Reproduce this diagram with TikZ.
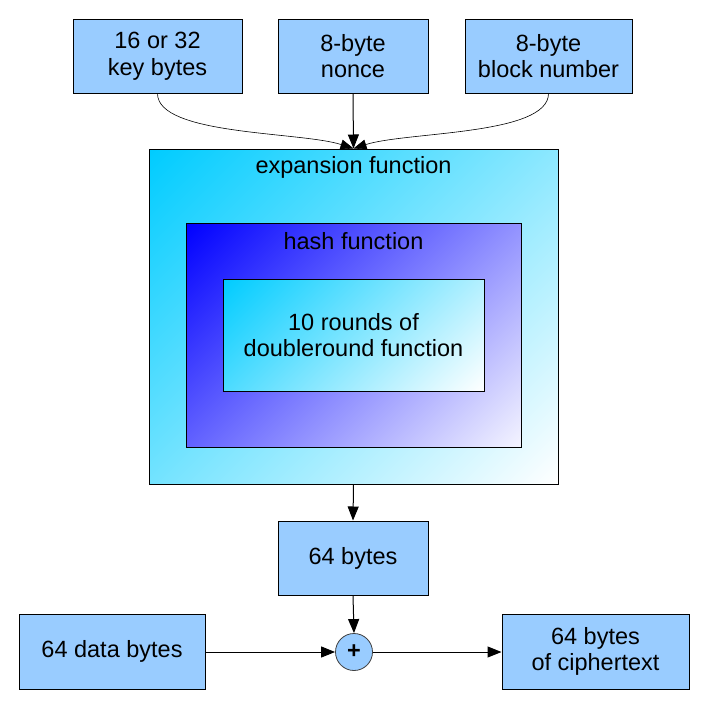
\documentclass[tikz,border=0pt]{standalone}
\usepackage{fontspec}
\setmainfont{Liberation Sans}
\usetikzlibrary{arrows.meta}
\definecolor{boxblue}{HTML}{99CCFF}
\definecolor{cyanA}{HTML}{00CCFF}
\definecolor{blueA}{HTML}{0000FF}
\definecolor{lavA}{HTML}{F4F4FF}
\pgfdeclareverticalshading{cyanfade}{100bp}{color(0bp)=(white); color(14.6bp)=(white); color(85.4bp)=(cyanA); color(100bp)=(cyanA)}
\pgfdeclareverticalshading{bluefade}{100bp}{color(0bp)=(lavA); color(14.6bp)=(lavA); color(85.4bp)=(blueA); color(100bp)=(blueA)}
\tikzset{
  every node/.style={font=\fontsize{23.5}{26.5}\selectfont},
  bluebox/.style={draw=black, line width=1pt, fill=boxblue, rectangle, align=center, inner sep=0pt},
  cyanbox/.style={draw=black, line width=1pt, rectangle, inner sep=0pt, shading=cyanfade, shading angle=45},
  hashbox/.style={draw=black, line width=1pt, rectangle, inner sep=0pt, shading=bluefade, shading angle=45},
  conn/.style={line width=1pt, -{Triangle[length=14pt,width=11pt]}},
  thinconn/.style={line width=0.6pt, -{Triangle[length=13pt,width=10pt]}},
  lbl/.style={inner sep=0pt, align=center}
}
\begin{document}
\begin{tikzpicture}[x=1pt,y=-1pt]
\fill[white] (0,0) rectangle (707,707);
\useasboundingbox (0,0) rectangle (707,707);
% top inputs
\node[bluebox, minimum width=169pt, minimum height=74pt] (key) at (157.5,56) {16 or 32\\key bytes};
\node[bluebox, minimum width=150pt, minimum height=74pt] (nonce) at (353,56) {8-byte\\nonce};
\node[bluebox, minimum width=167pt, minimum height=74pt] (block) at (548.5,56) {8-byte\\block number};
% nested functions
\node[cyanbox, minimum width=409pt, minimum height=335pt] (exp) at (353.5,316.5) {};
\node[lbl] (explbl) at (353.5,167) {expansion function};
\node[hashbox, minimum width=335pt, minimum height=224pt] (hash) at (353.5,335) {};
\node[lbl] (hashlbl) at (353.5,241) {hash function};
\node[cyanbox, minimum width=261pt, minimum height=112pt, align=center] (rounds) at (353.5,335) {10 rounds of\\doubleround function};
% outputs
\node[bluebox, minimum width=150pt, minimum height=74pt] (ks) at (353,558) {64 bytes};
\node[circle, draw=black!75, line width=0.8pt, fill=boxblue, minimum size=37pt, inner sep=0pt] (xor) at (354,652) {\textbf{+}};
\node[bluebox, minimum width=186pt, minimum height=75pt] (data) at (112,651.5) {64 data bytes};
\node[bluebox, minimum width=187pt, minimum height=75pt] (ct) at (595.5,651.5) {64 bytes\\of ciphertext};
% connectors
\draw[thinconn] (key.south) .. controls +(0,42) and +(-53,-17) .. (exp.north);
\draw[thinconn] (block.south) .. controls +(0,42) and +(53,-17) .. (exp.north);
\draw[conn] (nonce.south) -- (exp.north);
\draw[conn] (exp.south) -- (ks.north);
\draw[conn] (ks.south) -- (xor.north);
\draw[conn] (data.east |- xor) -- (xor.west);
\draw[conn] (xor.east) -- (ct.west |- xor);
\end{tikzpicture}
\end{document}
